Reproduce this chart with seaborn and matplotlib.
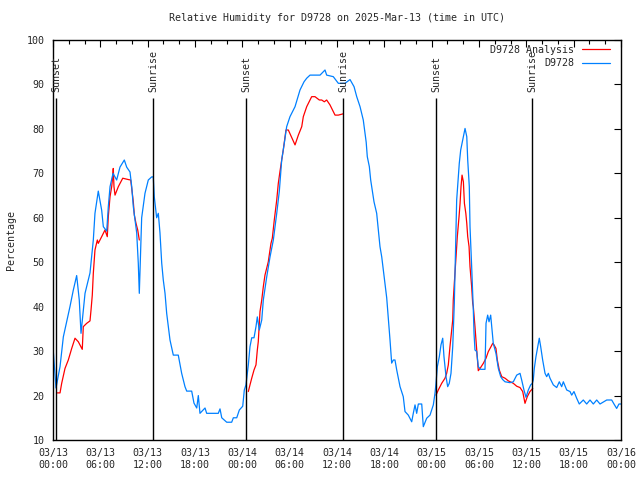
import pandas as pd
import matplotlib
matplotlib.use("Agg")
import matplotlib.pyplot as plt
import matplotlib.dates as mdates
from matplotlib.lines import Line2D
import seaborn as sns

# hours since 2025-03-13 00:00 UTC, relative humidity (%)
obs_hours = [0.04, 0.38, 0.89, 1.31, 2.15, 2.57, 3.0, 3.33, 3.55, 4.06, 4.69, 5.11, 5.32, 5.74,
             6.17, 6.38, 6.81, 7.01, 7.23, 7.61, 8.07, 8.49, 9.04, 9.34, 9.76, 9.98, 10.18, 10.61,
             10.81, 10.94, 11.24, 11.66, 12.08, 12.51, 12.71, 12.84, 13.14, 13.35, 13.56, 13.78,
             13.98, 14.2, 14.41, 14.83, 15.25, 15.88, 16.31, 16.73, 16.95, 17.58, 17.87, 18.22,
             18.42, 18.63, 19.27, 19.48, 20.95, 21.17, 21.39, 22.02, 22.65, 22.86, 23.29, 23.62,
             24.05, 24.25, 24.46, 24.76, 24.97, 25.19, 25.48, 25.73, 25.9, 26.15, 26.46, 26.66,
             27.09, 27.51, 27.93, 28.36, 28.69, 28.99, 29.32, 29.62, 30.04, 30.68, 31.31, 31.82,
             32.16, 32.58, 33.85, 34.48, 34.69, 35.53, 36.17, 37.01, 37.65, 38.16, 38.5, 38.92,
             39.33, 39.7, 39.84, 40.1, 40.27, 40.52, 40.69, 41.03, 41.24, 41.45, 41.67, 41.87,
             42.08, 42.3, 42.72, 42.93, 43.14, 43.35, 43.57, 43.99, 44.4, 44.62, 45.04, 45.47,
             45.67, 45.89, 46.1, 46.31, 46.74, 46.94, 47.37, 47.79, 48.21, 48.42, 48.55, 48.72,
             48.97, 49.18, 49.4, 49.56, 49.82, 50.03, 50.23, 50.45, 50.67, 50.87, 51.05, 51.17,
             51.5, 51.68, 51.94, 52.23, 52.45, 52.57, 52.77, 52.86, 53.07, 53.28, 53.37, 53.49,
             53.71, 53.91, 54.21, 54.76, 54.89, 55.1, 55.27, 55.48, 55.61, 55.81, 56.15, 56.45,
             56.75, 57.0, 57.3, 57.93, 58.35, 58.78, 59.2, 59.41, 59.7, 59.96, 60.25, 60.55,
             60.76, 60.88, 61.01, 61.22, 61.52, 61.64, 61.82, 62.07, 62.37, 62.58, 62.79, 63.0,
             63.42, 63.85, 64.18, 64.48, 64.69, 65.12, 65.54, 65.75, 66.04, 66.38, 66.71, 67.22,
             67.65, 68.07, 68.49, 68.92, 69.34, 70.19, 70.82, 71.11, 71.45, 71.74, 72.0]
obs_rh = [29.9, 21.7, 26.5, 33.2, 40, 43.7, 47, 41.5, 34, 43, 47.6, 55, 61, 66,
          61.7, 58, 57, 62.5, 67, 70, 68.5, 71.4, 73, 71.4, 70.3, 67, 62.5, 56.6,
          49.8, 43, 60, 65.5, 68.5, 69.2, 69.2, 64.7, 60, 61, 56.6, 49.8,
          46, 43, 38.5, 32.5, 29.1, 29.1, 25, 22, 21, 21, 18.3, 17.2,
          20, 16, 17.2, 16, 16, 17, 15, 14, 14, 15, 15, 16.75,
          17.6, 21.25, 22.4, 26.9, 31, 33, 33, 35.5, 37.7, 34.75, 37, 41.5,
          46.7, 51.2, 55, 61, 66, 73, 76.8, 80.5, 82.75, 85, 88.75, 90.6,
          91.4, 92.1, 92.1, 93.25, 92.1, 91.75, 90.25, 90.25, 91.1, 89.5, 87.25, 85,
          82, 77, 73.75, 71.5, 68.5, 65.5, 63.6, 61, 57.25, 53.5, 51.2, 48.25,
          45.25, 42, 32.5, 27.3, 28, 28, 25.75, 22, 19.75, 16.4, 15.6, 14.1,
          16, 17.9, 16, 18.1, 18.1, 13, 14.9, 15.6, 17.9, 20.5, 22.75, 26.5,
          28.75, 31.4, 32.9, 28.75, 24.25, 22, 22.75, 25, 31, 40.75, 55, 64,
          72.25, 75.25, 77.5, 80.1, 78.25, 73, 67, 58, 49, 39.25, 34, 30.25,
          29.9, 26.5, 25.9, 25.9, 36.25, 38.1, 36.6, 38.1, 35.5, 31.75, 29.5, 26.1,
          24.25, 23.6, 23.1, 22.9, 23.1, 24.6, 25, 23.5, 21.25, 19.6, 21.25, 22.4,
          22.75, 23.5, 26.1, 28.75, 31.75, 32.9, 31, 28, 25, 24.25, 25, 23.9,
          22.4, 21.8, 23.1, 22, 23.1, 21.25, 20.9, 20.1, 20.9, 19.4, 18.1, 19,
          18.1, 19, 18.1, 19, 18.1, 19, 19, 18.1, 17.1, 18.1, 18.1]

# analysis, three separate runs
ana1_hours = [0.55, 0.89, 1.1, 1.52, 1.94, 2.37, 2.79, 3.21, 3.71, 3.84, 4.27, 4.69, 4.82, 4.98,
              5.11, 5.32, 5.62, 5.74, 6.17, 6.59, 6.88, 7.01, 7.23, 7.44, 7.57, 7.64, 7.73, 7.86,
              8.28, 8.84, 9.55, 9.85, 9.98, 10.18, 10.31, 10.52, 10.74, 10.94]
ana1_rh = [20.6, 20.6, 22.75, 26.1, 28, 30.6, 32.9, 32.1, 30.4, 35.5, 36.25, 36.8, 39.25, 42.6,
           47.5, 52.75, 55, 54.25, 55.75, 57.25, 55.75, 60.25, 64.75, 67, 69.25, 71.1, 67, 65.1,
           67, 68.9, 68.6, 68.5, 66.6, 63.6, 60.6, 58.75, 57.25, 55]
ana2_hours = [24.76, 24.97, 25.19, 25.48, 25.73, 25.9, 26.02, 26.24, 26.46, 26.66, 26.87, 27.29,
              27.63, 27.8, 28.05, 28.36, 28.56, 28.77, 28.99, 29.19, 29.53, 29.83, 30.68, 31.1,
              31.53, 31.73, 32.16, 32.79, 33.21, 33.76, 34.06, 34.39, 34.69, 35.11, 35.75, 36.17,
              36.8]
ana2_rh = [20.9, 22.4, 23.9, 25.75, 26.9, 30.25, 32.1, 38.9, 41.5, 44.5, 47.1, 50.1,
           54.25, 55.4, 59.5, 64, 67.75, 70.4, 73, 75.25, 79.75, 79.75, 76.4, 78.6,
           80.5, 82.75, 85, 87.25, 87.25, 86.5, 86.5, 86.1, 86.5, 85.4, 83.1, 83.1,
           83.4]
ana3_hours = [48.55, 48.84, 49.27, 49.69, 49.9, 50.11, 50.32, 50.54, 50.67, 50.74, 50.87, 51.09,
              51.25, 51.47, 51.6, 51.72, 51.85, 52.02, 52.15, 52.33, 52.45, 52.57, 52.74, 52.86,
              53.07, 53.2, 53.28, 53.49, 53.71, 53.91, 54.13, 54.55, 54.89, 55.18, 55.52, 55.74,
              55.9, 56.15, 56.32, 56.57, 56.88, 57.3, 57.72, 58.35, 58.78, 59.2, 59.54, 59.83,
              60.12, 60.46, 60.81]
ana3_rh = [20.1, 21.25, 22.75, 23.9, 25, 26.9, 31, 34.75, 37, 41.5, 45.25, 51.25,
           55.75, 60.25, 63.25, 67, 69.6, 68.1, 63.25, 61, 58.75, 55.75, 53.5, 49,
           44.5, 40.75, 40, 35.5, 30.25, 25.6, 26.1, 27.25, 28.4, 29.9, 31, 31.75,
           31.4, 30.6, 28, 25.75, 24.25, 23.9, 23.3, 22.75, 22.1, 21.8, 20.9, 18.25,
           19.75, 20.9, 21.6]

sun_hours = [0.38, 12.68, 24.46, 36.76, 48.55, 60.72]
sun_labels = ["Sunset", "Sunrise", "Sunset", "Sunrise", "Sunset", "Sunrise"]

start = pd.Timestamp("2025-03-13 00:00")

obs = pd.DataFrame({"time": start + pd.to_timedelta(obs_hours, unit="h"), "rh": obs_rh})
ana = pd.concat([
    pd.DataFrame({"time": start + pd.to_timedelta(h, unit="h"), "rh": v, "seg": i})
    for i, (h, v) in enumerate([(ana1_hours, ana1_rh), (ana2_hours, ana2_rh), (ana3_hours, ana3_rh)])
])

red = "#ff0000"
blue = "#0080ff"
fs = 7.2

sns.set_style("white")
plt.rcParams["font.family"] = ["DejaVu Sans Mono", "DejaVu Sans"]

fig = plt.figure(figsize=(6.4, 4.8), dpi=100)
ax = fig.add_axes([53 / 640, 40 / 480, 568 / 640, 400 / 480])

# analysis under the observations, like gnuplot's draw order
sns.lineplot(data=ana, x="time", y="rh", units="seg", estimator=None, color=red,
             lw=0.9, ax=ax, legend=False)
sns.lineplot(data=obs, x="time", y="rh", color=blue, lw=0.9, ax=ax, legend=False)

# sunrise / sunset markers
for h, lab in zip(sun_hours, sun_labels):
    t = start + pd.Timedelta(hours=h)
    ax.vlines(t, 10, 86.9, color="black", lw=1.0)
    ax.text(t, 88.3, lab, rotation=90, ha="center", va="bottom", fontsize=fs)

ax.set_xlim(start, start + pd.Timedelta(hours=72))
ax.set_ylim(10, 100)
ax.set_yticks(range(10, 101, 10))
ax.xaxis.set_major_locator(mdates.HourLocator(byhour=[0, 6, 12, 18]))
ax.xaxis.set_minor_locator(mdates.HourLocator(interval=2))
ax.xaxis.set_major_formatter(mdates.DateFormatter("%m/%d\n%H:%M"))

ax.tick_params(which="both", direction="in", top=True, right=True, labelsize=fs, color="black")
ax.tick_params(which="major", length=5, width=0.8, pad=6)
ax.tick_params(which="minor", length=3, width=0.8)
for s in ax.spines.values():
    s.set_color("black")
    s.set_linewidth(1.0)

ax.set_xlabel("")
ax.set_ylabel("Percentage", fontsize=fs, labelpad=8)
ax.set_title("Relative Humidity for D9728 on 2025-Mar-13 (time in UTC)", fontsize=fs, pad=14)

handles = [Line2D([], [], color=red, lw=0.9), Line2D([], [], color=blue, lw=0.9)]
ax.legend(handles, ["D9728 Analysis", "D9728"], loc="upper right",
          bbox_to_anchor=(1 - 11 / 568, 1 - 5 / 400), frameon=False, markerfirst=False,
          fontsize=fs, handlelength=2.8, borderaxespad=0, borderpad=0,
          labelspacing=0.35, handletextpad=0.8)

fig.savefig("out.png", dpi=100)
